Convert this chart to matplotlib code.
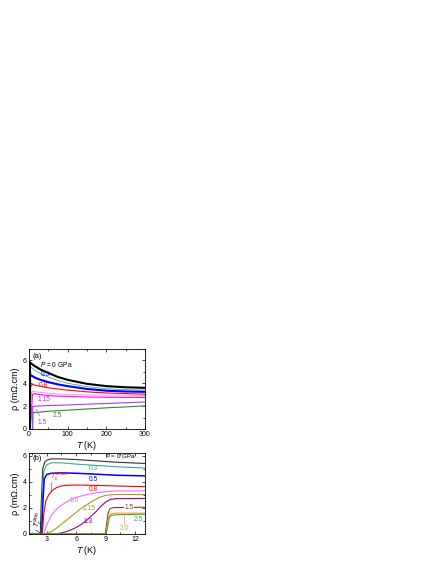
import matplotlib
matplotlib.use('Agg')
import matplotlib.pyplot as plt
from matplotlib.ticker import MultipleLocator

plt.rcParams['font.family'] = ['Liberation Sans', 'DejaVu Sans']
plt.rcParams['mathtext.fontset'] = 'custom'
plt.rcParams['mathtext.rm'] = 'Liberation Sans'
plt.rcParams['mathtext.it'] = 'Liberation Sans:italic'

# ---- panel (a): rho vs T up to 300 K ----
a_p0_T = [2.3, 2.5, 5, 15, 30, 50, 75, 100, 150, 200, 250, 300]
a_p0_r = [0, 5.85, 5.75, 5.5, 5.2, 4.9, 4.55, 4.3, 3.95, 3.75, 3.65, 3.6]
a_p03_T = [2.4, 2.6, 5, 15, 30, 50, 75, 100, 150, 200, 250, 300]
a_p03_r = [0, 5.45, 5.4, 5.15, 4.85, 4.55, 4.25, 4.0, 3.7, 3.52, 3.44, 3.4]
a_p05_T = [2.6, 2.8, 5, 15, 30, 50, 75, 100, 150, 200, 250, 300]
a_p05_r = [0, 4.75, 4.7, 4.5, 4.3, 4.1, 3.9, 3.75, 3.5, 3.35, 3.28, 3.25]
a_p08_T = [2.7, 4, 8, 20, 50, 100, 150, 200, 250, 300]
a_p08_r = [0, 3.7, 3.9, 3.8, 3.6, 3.4, 3.25, 3.15, 3.1, 3.05]
a_p10_T = [3.0, 6, 10, 30, 60, 100, 150, 200, 250, 300]
a_p10_r = [0, 3.2, 3.3, 3.2, 3.1, 3.02, 2.98, 2.96, 2.95, 2.95]
a_p115_T = [3.5, 9, 12, 30, 60, 100, 150, 200, 250, 300]
a_p115_r = [0, 3.0, 3.1, 3.0, 2.9, 2.85, 2.8, 2.78, 2.77, 2.76]
a_p15_T = [9.2, 9.8, 20, 50, 100, 150, 200, 250, 300]
a_p15_r = [0, 1.98, 2.0, 2.05, 2.1, 2.17, 2.23, 2.3, 2.36]
a_p25_T = [9.3, 10, 20, 50, 100, 150, 200, 250, 300]
a_p25_r = [0, 1.45, 1.45, 1.55, 1.65, 1.75, 1.85, 1.93, 2.02]

# ---- panel (b): low temperature region ----
b_p0_T = [1.2, 2.35, 2.45, 2.6, 2.8, 3.0, 3.5, 4.5, 6, 8, 10, 13]
b_p0_r = [0, 0, 2.5, 5.0, 5.5, 5.65, 5.75, 5.75, 5.7, 5.6, 5.5, 5.4]
b_p03_T = [1.2, 2.45, 2.55, 2.7, 3.0, 3.5, 4.5, 6, 8, 10, 13]
b_p03_r = [0, 0, 2.5, 4.8, 5.3, 5.45, 5.45, 5.35, 5.25, 5.15, 5.05]
b_p05_T = [1.2, 2.5, 2.6, 2.75, 3.0, 3.5, 4.5, 6, 8, 10, 13]
b_p05_r = [0, 0, 2.2, 4.2, 4.55, 4.65, 4.68, 4.65, 4.58, 4.5, 4.45]
b_p08_T = [1.2, 2.55, 2.7, 2.9, 3.2, 3.6, 4.0, 4.5, 5.0, 6, 8, 10, 13]
b_p08_r = [0, 0, 1.5, 2.5, 3.0, 3.35, 3.55, 3.68, 3.72, 3.75, 3.72, 3.68, 3.62]
b_p10_T = [1.2, 2.7, 3.0, 3.5, 4.0, 4.5, 5.0, 5.5, 6, 7, 8, 9, 10, 13]
b_p10_r = [0, 0, 0.7, 1.45, 1.9, 2.2, 2.45, 2.65, 2.8, 3.0, 3.15, 3.25, 3.3, 3.3]
b_p115_T = [1.2, 3.0, 3.5, 4, 4.5, 5, 5.5, 6, 6.5, 7, 7.5, 8, 8.5, 9, 9.5, 10, 13]
b_p115_r = [0, 0, 0.2, 0.45, 0.75, 1.05, 1.35, 1.65, 1.95, 2.2, 2.45, 2.65, 2.85, 2.95, 3.0, 3.02, 3.02]
b_p13_T = [1.2, 3.8, 4.5, 5, 5.5, 6, 6.5, 7, 7.5, 8, 8.5, 9, 9.5, 10, 13]
b_p13_r = [0, 0, 0.08, 0.18, 0.32, 0.5, 0.72, 1.0, 1.35, 1.7, 2.1, 2.45, 2.65, 2.7, 2.72]
b_p15_T = [1.2, 8.95, 9.1, 9.25, 9.45, 9.8, 13]
b_p15_r = [0, 0, 0.8, 1.6, 1.95, 2.02, 2.05]
b_p20_T = [1.2, 9.0, 9.15, 9.3, 9.5, 9.9, 13]
b_p20_r = [0, 0, 0.6, 1.3, 1.55, 1.6, 1.6]
b_p25_T = [1.2, 9.05, 9.2, 9.35, 9.55, 10, 13]
b_p25_r = [0, 0, 0.55, 1.2, 1.42, 1.47, 1.52]

fig = plt.figure(figsize=(4.36, 5.64), dpi=100)
ax1 = fig.add_axes([0.0665, 0.2394, 0.266, 0.1418])
ax2 = fig.add_axes([0.0665, 0.0532, 0.266, 0.1436])

lab = dict(fontsize=4.8, va='center')

# panel (a)
ax1.plot(a_p25_T, a_p25_r, color='#2e8b2e', lw=0.8)
ax1.plot(a_p15_T, a_p15_r, color='#a040ff', lw=0.8)
ax1.plot(a_p115_T, a_p115_r, color='#ff00ff', lw=0.8)
ax1.plot(a_p10_T, a_p10_r, color='#ff80ff', lw=0.6)
ax1.plot(a_p08_T, a_p08_r, color='#ff0000', lw=0.8)
ax1.plot(a_p03_T, a_p03_r, color='#3aa89a', lw=0.6)
ax1.plot(a_p05_T, a_p05_r, color='#0000ff', lw=1.5)
ax1.plot(a_p0_T, a_p0_r, color='black', lw=1.5)
ax1.set_xlim(0, 300)
ax1.set_ylim(0, 7)
ax1.set_xticks([0, 100, 200, 300])
ax1.set_yticks([0, 2, 4, 6])
ax1.xaxis.set_minor_locator(MultipleLocator(50))
ax1.yaxis.set_minor_locator(MultipleLocator(1))
ax1.set_xlabel('$T$ (K)', fontsize=6.5, labelpad=0.5)
ax1.set_ylabel('ρ (mΩ.cm)', fontsize=6.5, labelpad=2)
ax1.text(0.03, 0.95, '(a)', transform=ax1.transAxes, fontsize=5.5, va='top')
ax1.text(28, 5.6, '$P$ = 0 GPa', **lab)
ax1.text(30, 4.75, '0.5', color='#0000ff', **lab)
ax1.text(25, 3.8, '0.8', color='#ff0000', **lab)
ax1.text(22, 2.6, '1.15', color='#ff00ff', **lab)
ax1.text(22, 0.55, '1.5', color='#a040ff', **lab)
ax1.annotate('', xy=(16, 1.95), xytext=(30, 0.95),
             arrowprops=dict(arrowstyle='-', color='#a040ff', lw=0.5))
ax1.text(62, 1.15, '2.5', color='#2e8b2e', **lab)

# panel (b)
ax2.plot(b_p0_T, b_p0_r, color='#333333', lw=0.8)
ax2.plot(b_p03_T, b_p03_r, color='#3aa89a', lw=0.8)
ax2.plot(b_p05_T, b_p05_r, color='#0000ff', lw=1.1)
ax2.plot(b_p08_T, b_p08_r, color='#ff0000', lw=0.8)
ax2.plot(b_p10_T, b_p10_r, color='#ff66ff', lw=0.8)
ax2.plot(b_p115_T, b_p115_r, color='#a0a020', lw=0.8)
ax2.plot(b_p13_T, b_p13_r, color='#990099', lw=0.8)
ax2.plot(b_p15_T, b_p15_r, color='#993333', lw=0.8)
ax2.plot(b_p20_T, b_p20_r, color='#ff9933', lw=0.8)
ax2.plot(b_p25_T, b_p25_r, color='#33aa33', lw=0.8)
ax2.set_xlim(1.2, 13)
ax2.set_ylim(0, 6.2)
ax2.set_xticks([3, 6, 9, 12])
ax2.set_yticks([0, 2, 4, 6])
ax2.xaxis.set_minor_locator(MultipleLocator(1.5))
ax2.yaxis.set_minor_locator(MultipleLocator(1))
ax2.set_xlabel('$T$ (K)', fontsize=6.5, labelpad=0.5)
ax2.set_ylabel('ρ (mΩ.cm)', fontsize=6.5, labelpad=2)
ax2.text(0.03, 0.97, '(b)', transform=ax2.transAxes, fontsize=5.5, va='top')
ax2.text(8.9, 5.95, '$P$ = 0 GPa', fontsize=4.5, va='center')
ax2.text(7.3, 5.05, '0.3', color='#3aa89a', **lab)
ax2.text(7.3, 4.2, '0.5', color='#0000ff', **lab)
ax2.text(7.3, 3.42, '0.8', color='#ff0000', **lab)
ax2.text(5.3, 2.6, '1.0', color='#ff66ff', **lab)
ax2.text(6.6, 1.92, '1.15', color='#a0a020', **lab)
ax2.text(6.7, 0.95, '1.3', color='#990099', **lab)
ax2.text(10.9, 2.03, '1.5', color='#993333',
         bbox=dict(facecolor='white', edgecolor='none', pad=0.3), **lab)
ax2.text(10.4, 0.45, '2.0', color='#ff9933', **lab)
ax2.plot([10.9, 10.9], [0.8, 1.55], color='#ff9933', lw=0.5)
ax2.text(11.9, 1.08, '2.5', color='#33aa33', **lab)
ax2.text(3.3, 4.35, '$T_c^{\\,\\mathrm{onset}}$', fontsize=4.8, color='#ff0000', va='center')
ax2.plot([3.45, 3.45], [3.3, 4.0], color='#ff0000', lw=0.4)
ax2.text(1.45, 0.35, '$T_c^{\\,\\mathrm{zero}}$', fontsize=4.8, rotation=75, va='bottom')
ax2.plot([1.9, 2.4], [0.3, 0.02], color='black', lw=0.4)

for ax in (ax1, ax2):
    ax.tick_params(which='both', direction='in', width=0.5, labelsize=5, pad=1.5,
                   top=True, right=True)
    ax.tick_params(which='major', length=2)
    ax.tick_params(which='minor', length=1.2)
    for s in ax.spines.values():
        s.set_linewidth(0.6)

fig.savefig('out.png', dpi=100)
